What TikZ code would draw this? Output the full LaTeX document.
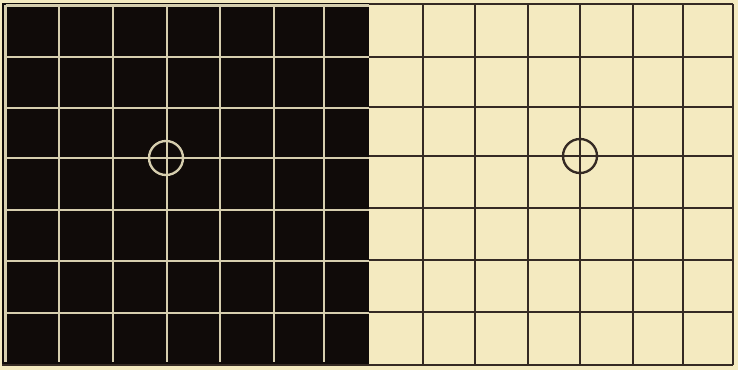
\documentclass[tikz,border=0pt]{standalone}
\usepackage{tikz}
\definecolor{paper}{HTML}{F4EAC0}
\definecolor{ink}{HTML}{100B09}
\definecolor{chalk}{HTML}{D6CEAE}
\definecolor{rule}{HTML}{352A24}

\begin{document}
\begin{tikzpicture}[x=0.03cm, y=-0.03cm,
  lightline/.style={draw=chalk, line width=1.9pt},
  darkline/.style={draw=rule, line width=1.9pt},
  sight/.style={line width=2pt}
]
\useasboundingbox (0,0) rectangle (738,370);

% Paper background
\fill[paper] (0,0) rectangle (738,370);

% Left panel: black field with light grid
\fill[ink] (2,3) rectangle (369,364);
\foreach \x in {5.5,59,113,167,220,274,324}
  \draw[lightline] (\x,5.5) -- (\x,362);
\foreach \y in {5.5,57,108,158,210,261,313}
  \draw[lightline] (5.5,\y) -- (369,\y);

% Right panel: paper field with dark grid
\foreach \x in {423,475,528,580,633,683,733}
  \draw[darkline] (\x,4) -- (\x,365);
\foreach \y in {4,57,107,156,208,260,312}
  \draw[darkline] (369,\y) -- (733,\y);
\draw[darkline] (2,365) -- (733,365);

% Fixation circles
\draw[sight, chalk] (166,158) circle[radius=17];
\draw[sight, rule] (580,156) circle[radius=17];

\end{tikzpicture}
\end{document}
